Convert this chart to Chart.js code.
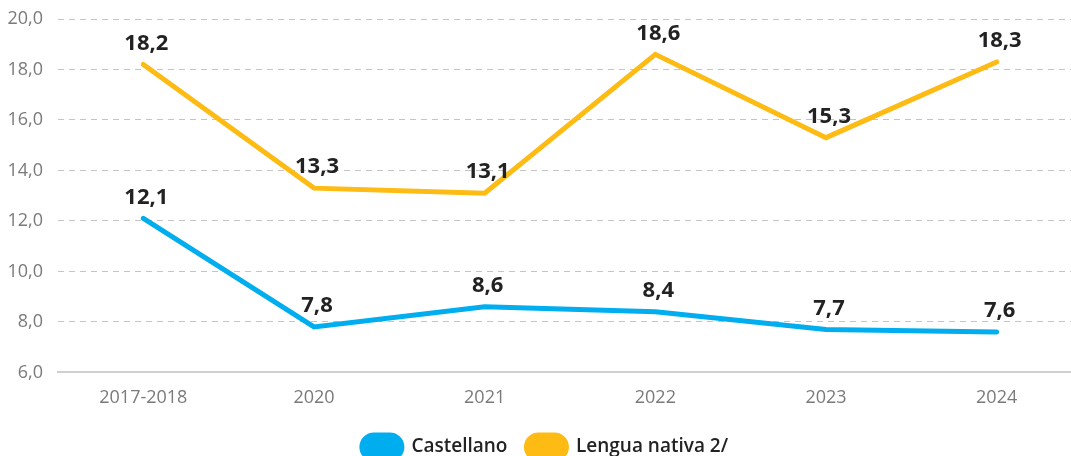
<!DOCTYPE html>
<html>
<head>
<meta charset="utf-8">
<script src="https://cdn.jsdelivr.net/npm/chart.js@4.4.1/dist/chart.umd.min.js"></script>
<style>
  html, body { margin: 0; padding: 0; background: #fff; overflow: hidden; }
  #wrap { width: 1071px; height: 456px; overflow: hidden; }
</style>
</head>
<body>
<div id="wrap"><canvas id="myChart" width="1082" height="469"></canvas></div>
<script>
const years = ['2017-2018', '2020', '2021', '2022', '2023', '2024'];
const castellano = [12.1, 7.8, 8.6, 8.4, 7.7, 7.6];
const lenguaNativa = [18.2, 13.3, 13.1, 18.6, 15.3, 18.3];

function fmt(v) {
    return v.toFixed(1).replace('.', ',');
}

// value labels above each point
const pointLabels = {
    id: 'pointLabels',
    afterDatasetsDraw(chart) {
        const ctx = chart.ctx;
        ctx.save();
        ctx.font = 'bold 22px "Open Sans"';
        ctx.fillStyle = '#222';
        ctx.textAlign = 'center';
        ctx.textBaseline = 'middle';
        chart.data.datasets.forEach(function (ds, i) {
            const meta = chart.getDatasetMeta(i);
            meta.data.forEach(function (pt, j) {
                ctx.fillText(fmt(ds.data[j]), pt.x + 3, pt.y - 21);
            });
        });
        ctx.restore();
    }
};

const ctx = document.getElementById('myChart');
new Chart(ctx, {
    type: 'line',
    data: {
        labels: years,
        datasets: [
            {
                label: 'Castellano',
                data: castellano,
                borderColor: '#00AEEF',
                backgroundColor: '#00AEEF',
                borderWidth: 5,
                borderCapStyle: 'round',
                pointRadius: 0,
                tension: 0
            },
            {
                label: 'Lengua nativa 2/',
                data: lenguaNativa,
                borderColor: '#FDBB13',
                backgroundColor: '#FDBB13',
                borderWidth: 5,
                borderCapStyle: 'round',
                pointRadius: 0,
                tension: 0
            }
        ]
    },
    options: {
        responsive: false,
        animation: false,
        layout: { padding: { top: 0, right: 0, left: 8, bottom: 0 } },
        plugins: {
            tooltip: { enabled: false },
            legend: {
                position: 'bottom',
                labels: {
                    font: { family: '"Open Sans"', size: 19, weight: '600' },
                    color: '#222',
                    boxWidth: 40,
                    boxHeight: 24,
                    useBorderRadius: true,
                    borderRadius: 12,
                    padding: 19
                }
            }
        },
        scales: {
            x: {
                offset: true,
                grid: { display: false },
                border: { display: true, color: '#d0d0d0', width: 2 },
                ticks: {
                    color: '#7a7a7a',
                    font: { family: '"Open Sans"', size: 18 },
                    padding: 7
                }
            },
            y: {
                min: 6,
                max: 20,
                afterFit: function (scale) {
                    scale.width = 50;
                    scale.paddingTop = 19;
                },
                ticks: {
                    stepSize: 2,
                    color: '#7a7a7a',
                    font: { family: '"Open Sans"', size: 18 },
                    padding: 15,
                    callback: function (v) { return fmt(v); }
                },
                grid: {
                    color: '#c4c4c4',
                    drawTicks: false,
                    lineWidth: 1
                },
                border: { display: false, dash: [6, 5] }
            }
        }
    },
    plugins: [pointLabels]
});
</script>
</body>
</html>
